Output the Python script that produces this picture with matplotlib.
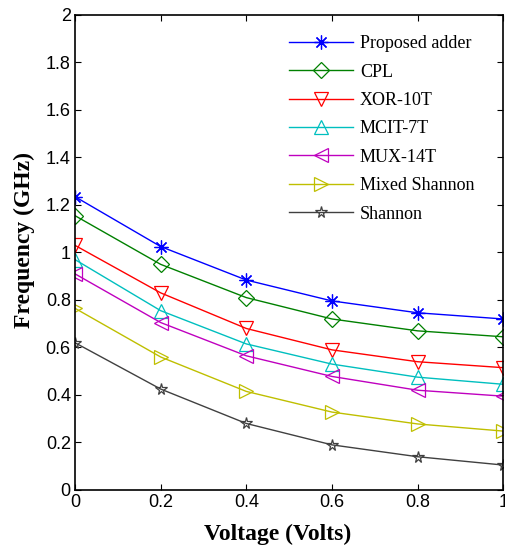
import matplotlib
matplotlib.use("Agg")
import matplotlib.pyplot as plt

voltage = [0, 0.2, 0.4, 0.6, 0.8, 1.0]
proposed = [1.235, 1.025, 0.884, 0.796, 0.746, 0.72]
cpl = [1.155, 0.95, 0.81, 0.72, 0.67, 0.645]
xor10t = [1.03, 0.83, 0.68, 0.59, 0.54, 0.515]
mcit7t = [0.97, 0.755, 0.615, 0.53, 0.475, 0.445]
mux14t = [0.91, 0.705, 0.565, 0.478, 0.42, 0.395]
mixed_shannon = [0.765, 0.56, 0.415, 0.328, 0.278, 0.248]
shannon = [0.62, 0.425, 0.28, 0.19, 0.14, 0.105]

asterisk = (8, 2, 0)
series = [
    ("Proposed adder", proposed, "#0000ff", asterisk, 10),
    ("CPL", cpl, "#008000", "D", 8.5),
    ("XOR-10T", xor10t, "#ff0000", "v", 10),
    ("MCIT-7T", mcit7t, "#00bfbf", "^", 10),
    ("MUX-14T", mux14t, "#bf00bf", "<", 10),
    ("Mixed Shannon", mixed_shannon, "#bfbf00", ">", 10),
    ("Shannon", shannon, "#404040", "*", 8.5),
]

fig = plt.figure(figsize=(5.05, 5.46), dpi=100)
ax = fig.add_axes([0.1485, 0.1026, 0.848, 0.87])
for name, vals, col, mk, ms in series:
    ax.plot(voltage, vals, color=col, marker=mk, linewidth=1.0, label=name,
            markersize=ms, markerfacecolor="none", markeredgecolor=col, markeredgewidth=0.9)

ax.set_xlim(0, 1)
ax.set_ylim(0, 2)
ax.set_xticks([0, 0.2, 0.4, 0.6, 0.8, 1])
ax.set_xticklabels(["0", "0.2", "0.4", "0.6", "0.8", "1"])
ax.set_yticks([0, 0.2, 0.4, 0.6, 0.8, 1, 1.2, 1.4, 1.6, 1.8, 2])
ax.set_yticklabels(["0", "0.2", "0.4", "0.6", "0.8", "1", "1.2", "1.4", "1.6", "1.8", "2"])
ax.tick_params(direction="in", top=True, right=True, length=4, width=0.8, labelsize=13, pad=3)
for lab in ax.get_xticklabels() + ax.get_yticklabels():
    lab.set_family("Liberation Sans")
for s in ax.spines.values():
    s.set_linewidth(1.2)

ax.set_xlabel("Voltage (Volts)", family="Liberation Serif", fontweight="bold", fontsize=17)
ax.set_ylabel("Frequency (GHz)", family="Liberation Serif", fontweight="bold", fontsize=17)
ax.xaxis.set_label_coords(0.474, -0.072)
ax.yaxis.set_label_coords(-0.093, 0.526)

ax.legend(loc="upper right", frameon=False, prop={"family": "Liberation Serif", "size": 13},
          handlelength=3.5, handletextpad=0.4, labelspacing=0.63,
          bbox_to_anchor=(0.958, 0.98), borderaxespad=0.2)

fig.savefig("out.png", dpi=100)
